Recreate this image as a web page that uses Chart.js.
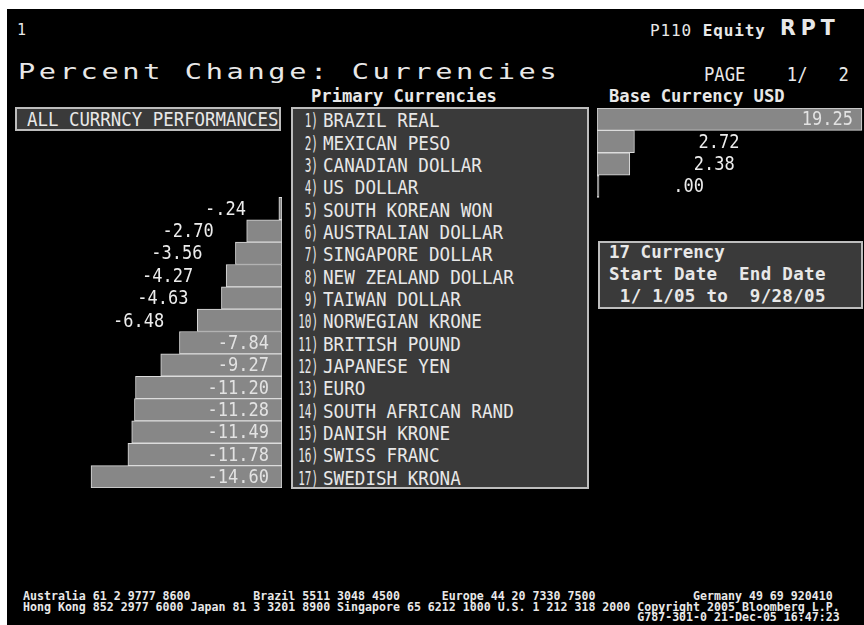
<!DOCTYPE html>
<html>
<head>
<meta charset="utf-8">
<script src="https://cdn.jsdelivr.net/npm/chart.js@4.4.1/dist/chart.umd.min.js"></script>
<style>
  html, body { margin: 0; padding: 0; background: #fff; }
  #screen { position: absolute; left: 7px; top: 9px; width: 857px; height: 616px; background: #000; }
  .t { position: absolute; white-space: pre; line-height: 1; color: #e8e8e8; font-family: "DejaVu Sans Mono", monospace; transform-origin: 0 50%; }
  .box { position: absolute; box-sizing: border-box; background: #3a3a3a; border: 2px solid #bdbdbd; }
  canvas { position: absolute; }
</style>
</head>
<body>
<div id="screen"></div>

<div class="t" style="left:17px;top:23px;font-size:15px;">1</div>
<div class="t" style="left:650px;top:23px;font-size:16px;letter-spacing:0.9px;">P110 <b>Equity</b></div>
<div class="t" style="left:780px;top:18px;font-size:20.5px;font-family:'DejaVu Sans';font-weight:bold;letter-spacing:5px;">RPT</div>

<div class="t" style="left:18px;top:61px;font-size:22px;letter-spacing:2.8px;transform:scaleX(1.3);">Percent Change: Currencies</div>
<div class="t" style="left:704px;top:64px;font-size:20px;transform:scaleX(0.86);">PAGE    1/   2</div>

<div class="t" style="left:311px;top:88px;font-size:17.5px;font-weight:bold;transform:scaleX(0.98);">Primary Currencies</div>
<div class="t" style="left:609px;top:88px;font-size:17.5px;font-weight:bold;transform:scaleX(0.98);">Base Currency USD</div>

<div class="box" style="left:15px;top:107px;width:266px;height:24px;"></div>
<div class="t" style="left:27px;top:109px;font-size:20px;transform:scaleX(0.87);">ALL CURRNCY PERFORMANCES</div>

<div class="box" id="listBox" style="left:291px;top:107px;width:298px;height:382px;"></div>
<div id="list"></div>

<div class="box" style="left:598px;top:241px;width:265px;height:68px;"></div>
<div class="t" style="left:609px;top:244px;font-size:17.5px;font-weight:bold;">17 Currency</div>
<div class="t" style="left:609px;top:266px;font-size:17.5px;font-weight:bold;letter-spacing:0.3px;">Start Date  End Date</div>
<div class="t" style="left:609px;top:288px;font-size:17.5px;font-weight:bold;letter-spacing:0.3px;"> 1/ 1/05 to  9/28/05</div>

<canvas id="negChart" width="282" height="380" style="left:0;top:108px;"></canvas>
<canvas id="posChart" width="267" height="380" style="left:597px;top:108px;"></canvas>

<div class="t" style="left:23px;top:591px;font-size:11.6px;font-weight:bold;line-height:10.5px;">Australia 61 2 9777 8600         Brazil 5511 3048 4500      Europe 44 20 7330 7500              Germany 49 69 920410
Hong Kong 852 2977 6000 Japan 81 3 3201 8900 Singapore 65 6212 1000 U.S. 1 212 318 2000 Copyright 2005 Bloomberg L.P.
                                                                                        G787-301-0 21-Dec-05 16:47:23</div>

<script>
// currencies, ranked by percent change vs USD, 1/1/05 to 9/28/05
var currencies = ["BRAZIL REAL", "MEXICAN PESO", "CANADIAN DOLLAR", "US DOLLAR",
    "SOUTH KOREAN WON", "AUSTRALIAN DOLLAR", "SINGAPORE DOLLAR", "NEW ZEALAND DOLLAR",
    "TAIWAN DOLLAR", "NORWEGIAN KRONE", "BRITISH POUND", "JAPANESE YEN", "EURO",
    "SOUTH AFRICAN RAND", "DANISH KRONE", "SWISS FRANC", "SWEDISH KRONA"];
var pctChange = [19.25, 2.72, 2.38, 0.00, -0.24, -2.70, -3.56, -4.27, -4.63, -6.48,
    -7.84, -9.27, -11.20, -11.28, -11.49, -11.78, -14.60];

var ROW_TOP = 108;
var ROW_H = 380 / currencies.length;

// numbered list in the middle box
var list = document.getElementById("list");
currencies.forEach(function (name, i) {
    var y = ROW_TOP + i * ROW_H + ROW_H / 2 - 10 + 1;
    var num = document.createElement("div");
    num.className = "t";
    num.textContent = (i + 1) + ")";
    num.style.cssText = "left:238px;width:80px;text-align:right;top:" + y + "px;font-size:20px;transform-origin:100% 50%;transform:scaleX(0.55);";
    list.appendChild(num);
    var lbl = document.createElement("div");
    lbl.className = "t";
    lbl.textContent = name;
    lbl.style.cssText = "left:323px;top:" + y + "px;font-size:20px;transform:scaleX(0.88);";
    list.appendChild(lbl);
});

// Bloomberg style numbers: -.24, .00, -2.70
function fmt(v) {
    var s = Math.abs(v).toFixed(2);
    if (s.charAt(0) === "0") s = s.slice(1);
    return (v < 0 ? "-" : "") + s;
}

var valueLabels = {
    id: "valueLabels",
    afterDatasetsDraw: function (chart, args, opts) {
        var ctx = chart.ctx;
        var values = chart.data.datasets[0].data;
        var meta = chart.getDatasetMeta(0);
        ctx.save();
        ctx.font = '20px "DejaVu Sans Mono"';
        ctx.textAlign = "right";
        ctx.textBaseline = "middle";
        meta.data.forEach(function (bar, i) {
            var v = values[i];
            if (v === null) return;
            var len = Math.abs(bar.x - bar.base);
            var tx;
            if (len > 90) {
                tx = opts.side === "left" ? bar.base - 13 : bar.x - 9;
                ctx.fillStyle = "#e2e2e2";
            } else {
                tx = opts.side === "left" ? bar.x - 33 : bar.x + 105;
                ctx.fillStyle = "#ececec";
            }
            ctx.save();
            ctx.translate(tx, bar.y + 1);
            ctx.scale(0.85, 1);
            ctx.fillText(fmt(v), 0, 0);
            ctx.restore();
        });
        ctx.restore();
    }
};

function makeChart(id, data, min, max, side) {
    return new Chart(document.getElementById(id), {
        type: "bar",
        data: {
            labels: currencies,
            datasets: [{
                data: data,
                backgroundColor: "#878787",
                borderColor: "#dcdcdc",
                borderWidth: 1,
                borderSkipped: false,
                minBarLength: 2,
                barPercentage: 1,
                categoryPercentage: 1
            }]
        },
        options: {
            indexAxis: "y",
            responsive: false,
            animation: false,
            devicePixelRatio: 1,
            layout: { padding: 0 },
            scales: {
                x: { type: "linear", min: min, max: max, display: false },
                y: { type: "category", display: false }
            },
            plugins: {
                legend: { display: false },
                tooltip: { enabled: false },
                valueLabels: { side: side }
            }
        },
        plugins: [valueLabels]
    });
}

var losers = pctChange.map(function (v) { return v < 0 ? v : null; });
var gainers = pctChange.map(function (v) { return v >= 0 ? v : null; });

makeChart("negChart", losers, -21.56, 0, "left");
makeChart("posChart", gainers, 0, 19.4, "right");
</script>
</body>
</html>
